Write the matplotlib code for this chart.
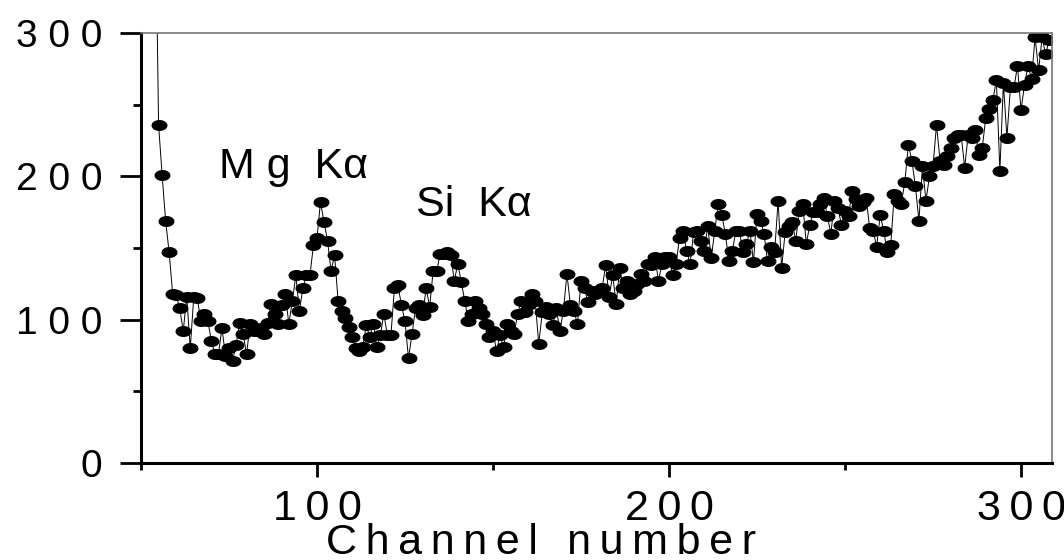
import numpy as np
import matplotlib
matplotlib.use("Agg")
import matplotlib.pyplot as plt
from matplotlib.ticker import MultipleLocator, FixedLocator

plt.rcParams['font.family'] = ['Liberation Sans', 'DejaVu Sans']

THIN = "\u2009"

# spectrum counts, one value per channel starting at channel 54
first_channel = 54
counts = [
    410, 236, 201, 169, 147, 118, 117, 108, 92, 116,          # 54-63
    80, 116, 115, 99, 104, 99, 85, 76, 76, 94,                # 64-73
    75, 80, 71, 82, 98, 90, 76, 97, 92, 92,                   # 74-83
    94, 90, 98, 111, 104, 97, 110, 118, 97, 113,              # 84-93
    131, 106, 122, 131, 131, 152, 157, 182, 168, 155,         # 94-103
    134, 145, 113, 106, 101, 95, 88, 80, 78, 81,              # 104-113
    96, 88, 97, 81, 89, 104, 89, 89, 122, 124,                # 114-123
    110, 99, 73, 90, 108, 110, 103, 122, 109, 134,            # 124-133
    134, 146, 146, 147, 145, 127, 139, 126, 113, 99,          # 134-143
    104, 113, 108, 104, 97, 88, 92, 78, 89, 81,               # 144-153
    97, 92, 90, 104, 113, 105, 110, 118, 113, 83,             # 154-163
    105, 109, 104, 96, 108, 92, 106, 132, 110, 106,           # 164-173
    97, 127, 122, 112, 120, 118, 120, 122, 138, 116,          # 174-183
    131, 111, 136, 122, 127, 118, 120, 125, 132, 127,         # 184-193
    139, 138, 144, 127, 139, 144, 144, 131, 139, 157,         # 194-203
    162, 148, 139, 161, 162, 155, 148, 165, 143, 162,         # 204-213
    181, 173, 160, 141, 148, 162, 162, 147, 153, 162,         # 214-223
    140, 174, 169, 160, 141, 151, 147, 183, 136, 161,         # 224-233
    165, 168, 155, 176, 181, 153, 166, 175, 175, 181,         # 234-243
    185, 172, 160, 183, 178, 166, 176, 172, 190, 184,         # 244-253
    179, 182, 185, 164, 162, 151, 173, 162, 147, 152,         # 254-263
    188, 183, 181, 196, 222, 211, 193, 169, 207, 183,         # 264-273
    200, 207, 236, 211, 208, 214, 220, 227, 229, 229,         # 274-283
    206, 229, 227, 232, 215, 220, 241, 247, 253, 267,         # 284-293
    204, 265, 227, 262, 262, 277, 246, 264, 277, 268,         # 294-303
    297, 274, 297, 285, 295,                                  # 304-308
]
channels = np.arange(first_channel, first_channel + len(counts))

x_ticks = [100, 200, 300]
y_ticks = [0, 100, 200, 300]
peak_labels = ["M g  Kα", "Si  Kα"]
peak_pos = [(72.2, 199), (128.0, 172)]
x_title = THIN.join("Channel") + THIN + " " + THIN + THIN.join("number")

fig = plt.figure(figsize=(10.64, 5.6), dpi=100)
ax = fig.add_axes([0.1325, 0.1732, 0.8562, 0.7679])

# elliptical markers, wider than tall
t = np.linspace(0, 2 * np.pi, 41)
ellipse = list(zip(1.45 * np.cos(t), np.sin(t)))

ax.plot(channels, counts, color='black', linewidth=0.7,
        marker=ellipse, markersize=11.5, markerfacecolor='black',
        markeredgecolor='black', markeredgewidth=0)

ax.set_xlim(50, 308.8)
ax.set_ylim(0, 300)

ax.xaxis.set_major_locator(FixedLocator(x_ticks))
ax.xaxis.set_minor_locator(MultipleLocator(50))
ax.yaxis.set_major_locator(FixedLocator(y_ticks))
ax.yaxis.set_minor_locator(MultipleLocator(50))
ax.set_xticklabels([THIN.join(str(v)) for v in x_ticks])
ax.set_yticklabels([" ".join(str(v)) for v in y_ticks])

ax.tick_params(axis='x', which='major', direction='out', length=10, width=2,
               labelsize=31, pad=9)
ax.tick_params(axis='x', which='minor', direction='out', length=5, width=2)
ax.tick_params(axis='y', which='major', direction='out', length=15, width=2,
               labelsize=28, pad=13)
ax.tick_params(axis='y', which='minor', direction='out', length=6, width=2)

for side in ['left', 'bottom']:
    ax.spines[side].set_linewidth(2.2)
    ax.spines[side].set_color('black')
for side in ['top', 'right']:
    ax.spines[side].set_linewidth(1.2)
    ax.spines[side].set_color('#777777')

for label, (px, py) in zip(peak_labels, peak_pos):
    ax.text(px, py, label, fontsize=31, ha='left', va='baseline')

fig.text(0.508, 0.0107, x_title, fontsize=31, ha='center', va='baseline')

fig.savefig("out.png", dpi=100)
